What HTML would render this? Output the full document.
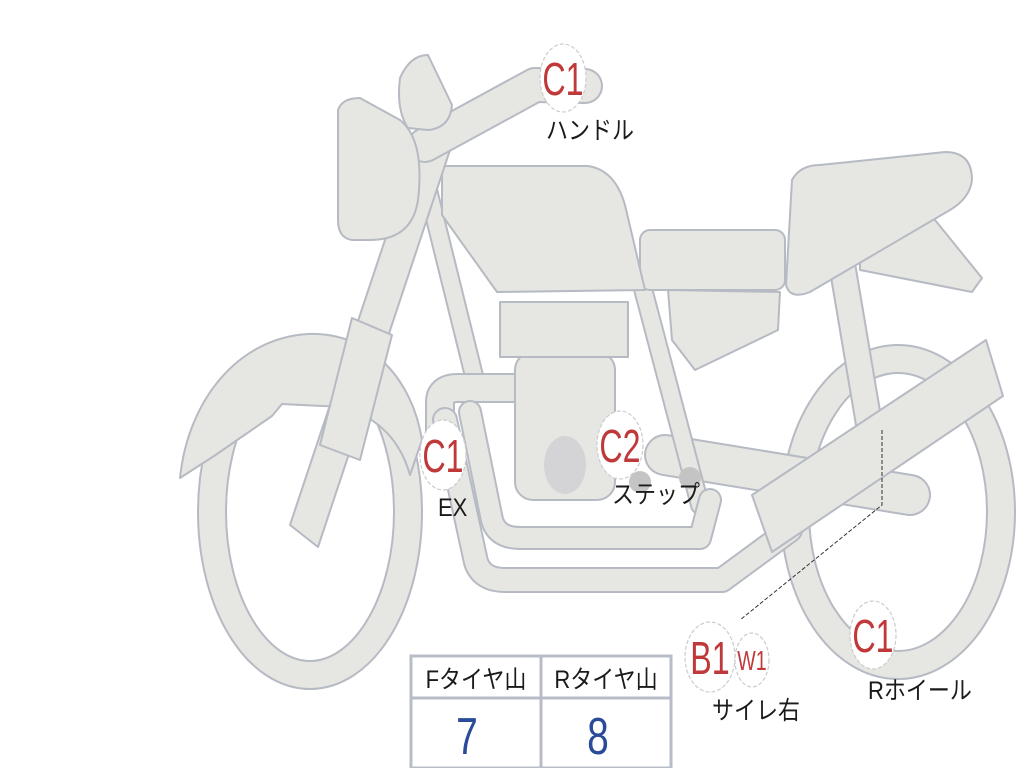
<!DOCTYPE html>
<html><head><meta charset="utf-8"><style>
html,body{margin:0;padding:0;background:#fff;width:1024px;height:768px;overflow:hidden}
svg text{font-family:"Liberation Sans","Noto Sans CJK JP",sans-serif}
</style></head><body>
<svg width="1024" height="768" viewBox="0 0 1024 768" xmlns="http://www.w3.org/2000/svg">
<defs>
<style>
.s{fill:#e6e6e2;stroke:#b6bac3;stroke-width:2;stroke-linejoin:round}
.o{fill:none;stroke:#b6bac3;stroke-linecap:round;stroke-linejoin:round}
.f{fill:none;stroke:#e6e6e2;stroke-linecap:round;stroke-linejoin:round}
</style>
</defs>
<ellipse cx="310" cy="512" rx="98" ry="163" class="o" stroke-width="30"/>
<ellipse cx="310" cy="512" rx="98" ry="163" class="f" stroke-width="26"/>
<ellipse cx="898" cy="512" rx="103" ry="153" class="o" stroke-width="30"/>
<ellipse cx="898" cy="512" rx="103" ry="153" class="f" stroke-width="26"/>
<path class="s" d="M180,478 C188,400 238,338 308,334 C370,332 412,378 422,440 L410,475 C398,432 365,406 322,406 L282,404 L272,416 L214,456 Z"/>
<path class="o" d="M843,270 L870,430" stroke-width="28"/><path class="f" d="M843,270 L870,430" stroke-width="24"/>
<path class="o" d="M665,455 L910,495" stroke-width="42"/><path class="f" d="M665,455 L910,495" stroke-width="38"/>
<path class="o" d="M428,190 L478,392" stroke-width="20"/><path class="f" d="M428,190 L478,392" stroke-width="16"/>
<path class="o" d="M642,285 L700,505" stroke-width="20"/><path class="f" d="M642,285 L700,505" stroke-width="16"/>
<path class="o" d="M440,440 L440,402 Q440,388 458,388 L515,388" stroke-width="30"/><path class="f" d="M440,440 L440,402 Q440,388 458,388 L515,388" stroke-width="26"/>
<path class="o" d="M470,412 L492,520 Q497,538 520,538 L700,538 L710,500" stroke-width="24"/><path class="f" d="M470,412 L492,520 Q497,538 520,538 L700,538 L710,500" stroke-width="20"/>
<path class="o" d="M445,420 L476,562 Q482,580 505,580 L722,580 L790,530" stroke-width="26"/><path class="f" d="M445,420 L476,562 Q482,580 505,580 L722,580 L790,530" stroke-width="22"/>
<rect class="s" x="515" y="352" width="100" height="148" rx="18"/>
<rect class="s" x="500" y="302" width="128" height="55"/>
<ellipse cx="565" cy="465" rx="21" ry="29" fill="#d4d4d6"/>
<circle cx="640" cy="482" r="11" fill="#c4c4c4"/><circle cx="690" cy="478" r="11" fill="#c4c4c4"/>
<path class="s" d="M668,290 L780,292 L778,330 L695,370 L672,340 Z"/>
<rect class="s" x="640" y="230" width="145" height="60" rx="10"/>
<path class="s" d="M860,212 L935,220 L982,278 L972,292 L860,270 Z"/>
<path class="s" d="M792,180 Q800,165 820,165 L945,152 Q972,152 972,180 Q970,198 950,210 L810,292 Q790,300 786,285 Z"/>
<path class="s" d="M442,166 L588,166 Q615,170 625,205 L645,290 L497,292 L442,215 Z"/>
<path class="s" d="M290,525 L318,547 L450,150 L420,135 Z"/>
<path class="s" d="M352,318 L392,335 L360,460 L320,445 Z"/>
<path class="o" d="M425,145 L535,85 L585,86" stroke-width="36"/><path class="f" d="M425,145 L535,85 L585,86" stroke-width="32"/>
<path class="s" d="M338,110 Q342,98 360,98 L400,120 Q425,140 418,200 Q412,240 370,240 L352,240 Q338,238 338,220 Z"/>
<path class="s" d="M400,78 Q410,55 428,55 L452,105 Q450,128 428,130 L408,128 Q396,110 400,78 Z"/>
<path class="s" d="M752,495 L772,552 L1003,396 L986,340 Z"/>
<path d="M882,430 L882,505 L740,620" fill="none" stroke="#333" stroke-width="1" stroke-dasharray="4,2"/>
<g fill="#fff" stroke="#cccccc" stroke-width="1.2" stroke-dasharray="4,2">
<ellipse cx="563" cy="78" rx="23" ry="34"/>
<ellipse cx="443" cy="455" rx="23" ry="35"/>
<ellipse cx="620" cy="445" rx="23" ry="34"/>
<ellipse cx="710" cy="657" rx="25" ry="35"/>
<ellipse cx="752" cy="660" rx="17" ry="27"/>
<ellipse cx="873" cy="635" rx="23" ry="34"/>
</g>
<g fill="#c0393a" font-size="46" text-anchor="middle">
<text x="563" y="95" transform="translate(563 0) scale(0.7 1) translate(-563 0)">C1</text>
<text x="443" y="472" transform="translate(443 0) scale(0.7 1) translate(-443 0)">C1</text>
<text x="620" y="462" transform="translate(620 0) scale(0.7 1) translate(-620 0)">C2</text>
<text x="710" y="674" transform="translate(710 0) scale(0.7 1) translate(-710 0)">B1</text>
<text x="873" y="652" transform="translate(873 0) scale(0.7 1) translate(-873 0)">C1</text>
<text x="752" y="670" font-size="28" transform="translate(752 0) scale(0.7 1) translate(-752 0)">W1</text>
</g>
<g fill="#1a1a1a" font-size="25">
<text x="546" y="139" transform="translate(546 0) scale(0.88 1) translate(-546 0)">ハンドル</text>
<text x="438" y="516" transform="translate(438 0) scale(0.88 1) translate(-438 0)">EX</text>
<text x="612" y="503" transform="translate(612 0) scale(0.88 1) translate(-612 0)">ステップ</text>
<text x="712" y="719" transform="translate(712 0) scale(0.88 1) translate(-712 0)">サイレ右</text>
<text x="868" y="699" transform="translate(868 0) scale(0.88 1) translate(-868 0)">Rホイール</text>
</g>
<g fill="none" stroke="#b8bcc8" stroke-width="3">
<rect x="411" y="656" width="260" height="112"/>
<line x1="411" y1="698" x2="671" y2="698"/>
<line x1="541" y1="656" x2="541" y2="768"/>
</g>
<g font-size="25" fill="#1a1a1a" text-anchor="middle">
<text x="476" y="688" transform="translate(476 0) scale(0.88 1) translate(-476 0)">Fタイヤ山</text>
<text x="606" y="688" transform="translate(606 0) scale(0.88 1) translate(-606 0)">Rタイヤ山</text>
</g>
<g font-size="52" fill="#2a4a9a" text-anchor="middle">
<text x="467" y="754" transform="translate(467 0) scale(0.75 1) translate(-467 0)">7</text>
<text x="598" y="754" transform="translate(598 0) scale(0.75 1) translate(-598 0)">8</text>
</g>
</svg>
</body></html>
